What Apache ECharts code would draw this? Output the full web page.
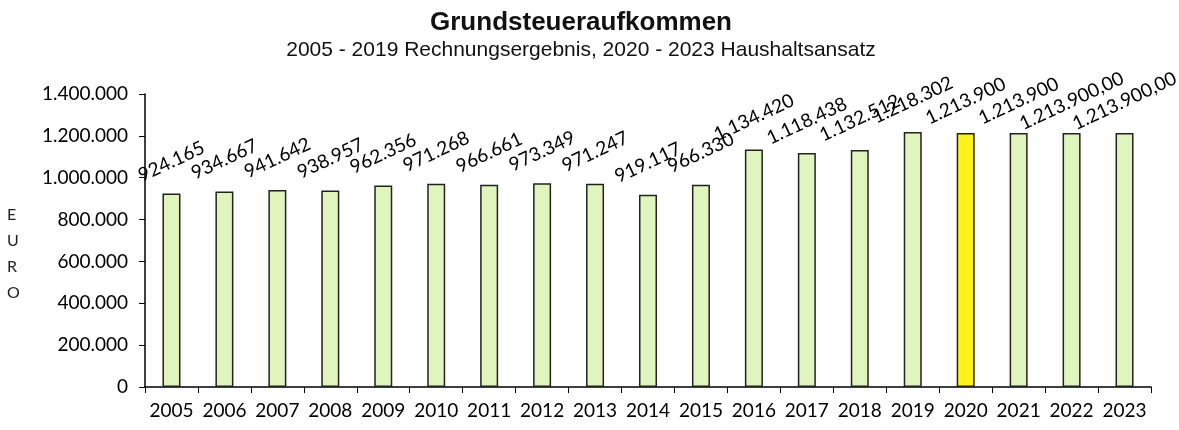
<!DOCTYPE html>
<html>
<head>
<meta charset="utf-8">
<script src="https://cdn.jsdelivr.net/npm/echarts@6/dist/echarts.min.js"></script>
<style>
  html, body { margin: 0; padding: 0; background: #fff; }
</style>
</head>
<body>
<div id="main" style="width:1179px;height:430px"></div>
<script>
// Daten
var years = ['2005','2006','2007','2008','2009','2010','2011','2012','2013','2014','2015','2016','2017','2018','2019','2020','2021','2022','2023'];
var values = [924165, 934667, 941642, 938957, 962356, 971268, 966661, 973349, 971247, 919117, 966330, 1134420, 1118438, 1132512, 1218302, 1213900, 1213900, 1213900, 1213900];
var labelTexts = ['924.165','934.667','941.642','938.957','962.356','971.268','966.661','973.349','971.247','919.117','966.330','1.134.420','1.118.438','1.132.512','1.218.302','1.213.900','1.213.900','1.213.900,00','1.213.900,00'];
var yTicks = [0, 200000, 400000, 600000, 800000, 1000000, 1200000, 1400000];

var highlightYear = '2020';

function fmt(v) {
  return String(v).replace(/\B(?=(\d{3})+(?!\d))/g, '.');
}

var barData = values.map(function (v, i) {
  return {
    value: v,
    itemStyle: { color: years[i] === highlightYear ? '#fff21a' : '#e0f5bd' }
  };
});

var chart = echarts.init(document.getElementById('main'));
var option = {
  animation: false,
  title: [{
    text: 'Grundsteueraufkommen',
    subtext: '2005 - 2019 Rechnungsergebnis, 2020 - 2023 Haushaltsansatz',
    left: 576,
    top: 5,
    textAlign: 'center',
    itemGap: 4,
    textStyle: { fontFamily: 'Liberation Sans', fontWeight: 'bold', fontSize: 26, color: '#111' },
    subtextStyle: { fontFamily: 'Liberation Sans', fontSize: 21, color: '#111' }
  }],
  graphic: [{
    type: 'text',
    left: 7,
    top: 202,
    style: {
      text: 'E\nU\nR\nO',
      fontFamily: 'Lato',
      fontSize: 16,
      lineHeight: 26,
      fill: '#222',
      align: 'center'
    }
  }],
  grid: { left: 145, right: 28, top: 94, bottom: 43 },
  xAxis: {
    type: 'category',
    data: years,
    axisLine: { lineStyle: { color: '#000', width: 1.5 } },
    axisTick: { show: true, alignWithLabel: false, length: 6, lineStyle: { color: '#000' } },
    axisLabel: { interval: 0, color: '#000', fontFamily: 'Lato', fontSize: 19, margin: 14 }
  },
  yAxis: {
    type: 'value',
    min: 0,
    max: 1400000,
    interval: 200000,
    axisLine: { show: true, lineStyle: { color: '#000', width: 1.5 } },
    axisTick: { show: true, length: 6, lineStyle: { color: '#000' } },
    splitLine: { show: false },
    axisLabel: {
      color: '#000',
      fontFamily: 'Lato',
      fontSize: 19,
      margin: 17,
      formatter: function (v) { return yTicks.indexOf(v) >= 0 ? fmt(v) : ''; }
    }
  },
  series: [{
    type: 'bar',
    data: barData,
    barWidth: 18,
    itemStyle: { borderColor: '#222', borderWidth: 1.5 },
    label: {
      show: true,
      position: 'top',
      distance: 32,
      rotate: 25,
      align: 'center',
      verticalAlign: 'middle',
      fontFamily: 'Lato',
      fontSize: 19,
      color: '#000',
      formatter: function (p) { return labelTexts[p.dataIndex]; }
    }
  }]
};
chart.setOption(option);
</script>
</body>
</html>
